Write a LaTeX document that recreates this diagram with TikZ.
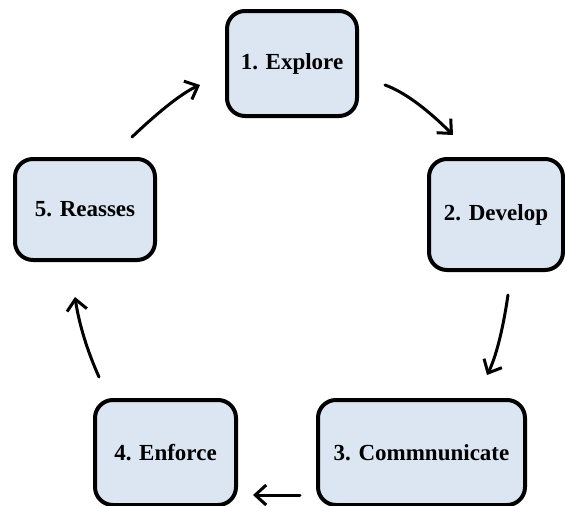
\documentclass[tikz,border=0pt]{standalone}
\usepackage{fontspec}
\setmainfont{Liberation Serif}
\usetikzlibrary{arrows.meta}
\definecolor{boxfill}{RGB}{220,230,242}
\begin{document}
\begin{tikzpicture}[x=1pt,y=-1pt,
  stagebox/.style={draw=black, line width=4pt, fill=boxfill, rounded corners=18pt,
    inner sep=0pt, font=\fontsize{23}{28}\selectfont\bfseries},
  cyclearrow/.style={line width=3pt, line cap=round,
    -{Straight Barb[length=11pt,width=20pt,line width=3pt]}}]
  \useasboundingbox (0,0) rectangle (565,506);

  % process stages
  \node[stagebox, minimum width=130pt, minimum height=105pt] (s1) at (292,63.5) {1. Explore};
  \node[stagebox, minimum width=134pt, minimum height=111pt] (s2) at (496,214.5) {2. Develop};
  \node[stagebox, minimum width=207pt, minimum height=105pt] (s3) at (421.5,452.5) {3. Commnunicate};
  \node[stagebox, minimum width=141pt, minimum height=105pt] (s4) at (165.5,452.5) {4. Enforce};
  \node[stagebox, minimum width=140pt, minimum height=101pt] (s5) at (85,209.5) {5. Reasses};

  % arrow end points between the stages
  \coordinate (a12) at (385,85);  \coordinate (b12) at (453,135);
  \coordinate (a23) at (508,295); \coordinate (b23) at (487,375);
  \coordinate (a34) at (300,495); \coordinate (b34) at (253,495);
  \coordinate (a45) at (99,377);  \coordinate (b45) at (75,297);
  \coordinate (a51) at (132,137); \coordinate (b51) at (200,85);

  % cycle arrows
  \draw[cyclearrow] (a12) .. controls (403.7,91.7) and (426.3,108.3) .. (b12);
  \draw[cyclearrow] (a23) .. controls (502.7,331) and (495.7,357.7) .. (b23);
  \draw[cyclearrow] (a34) -- (b34);
  \draw[cyclearrow] (a45) .. controls (87,350.3) and (79,323.7) .. (b45);
  \draw[cyclearrow] (a51) .. controls (160.7,109.7) and (183.3,92.3) .. (b51);
\end{tikzpicture}
\end{document}
